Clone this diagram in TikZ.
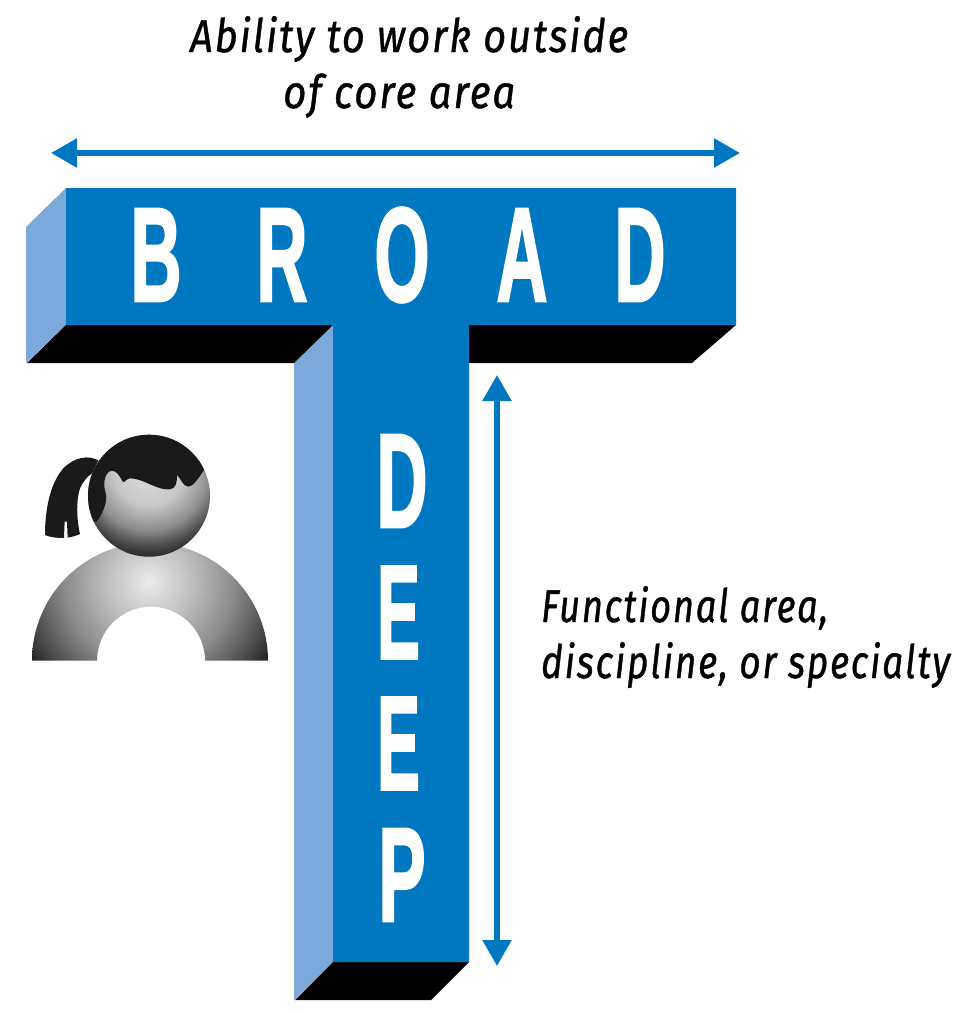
\documentclass[tikz,border=0pt]{standalone}
\usepackage{fontspec}
\setmainfont{Liberation Sans}
\newfontfamily\ltrfont[FakeBold=2]{Liberation Sans Bold}
\newfontfamily\handfont[LetterSpace=5,FakeBold=1]{Fira Sans Italic}
\usetikzlibrary{arrows.meta}
\definecolor{tblue}{HTML}{0077C1}
\definecolor{tlight}{HTML}{7BA9DC}
\definecolor{hairc}{HTML}{1A1A1A}
\pgfdeclareradialshading{bodyshade}{\pgfpoint{0bp}{0bp}}{color(0bp)=(white!92!black);color(7.4bp)=(white!75!black);color(14.8bp)=(white!55!black);color(21.2bp)=(white!30!black);color(25bp)=(black!87!white);color(100bp)=(black!87!white)}
\pgfdeclareradialshading{headshade}{\pgfpoint{0bp}{0bp}}{color(0bp)=(white!88!black);color(9.9bp)=(white!78!black);color(16.7bp)=(white!55!black);color(20.9bp)=(white!30!black);color(25bp)=(black!87!white);color(100bp)=(black!87!white)}
\tikzset{
  x=1pt,y=-1pt,
  letterbig/.style={text=white,inner sep=0pt,font=\ltrfont\fontsize{134}{134}\selectfont},
  handtext/.style={inner sep=0pt,anchor=base west,font=\handfont\fontsize{46}{46}\selectfont},
  dimarrow/.style={draw=tblue,line width=5.5pt,{Triangle[length=26pt,width=28pt]}-{Triangle[length=26pt,width=28pt]}},
}
\begin{document}
\begin{tikzpicture}
\useasboundingbox (0,0) rectangle (968,1013);
% T shape
\fill[tlight] (26,227) -- (66,188) -- (66,325) -- (26,363) -- cycle;
\fill[tlight] (294,363) -- (333,325) -- (333,962) -- (294,1000) -- cycle;
\fill[black] (66,325) -- (333,325) -- (294,363) -- (27,363) -- cycle;
\fill[black] (469,325) -- (736,325) -- (692,363) -- (469,363) -- cycle;
\fill[black] (333,962) -- (469,962) -- (431,1000) -- (295,1000) -- cycle;
\fill[tblue] (66,188) -- (736,188) -- (736,325) -- (469,325) -- (469,962) -- (333,962) -- (333,325) -- (66,325) -- cycle;
% letters
\node[letterbig] (b1) at (156,255) {\scalebox{.53}[1]{B}};
\node[letterbig] (b2) at (282,255) {\scalebox{.53}[1]{R}};
\node[letterbig] (b3) at (402,255) {\scalebox{.53}[1]{O}};
\node[letterbig] (b4) at (522,255) {\scalebox{.53}[1]{A}};
\node[letterbig] (b5) at (640,255) {\scalebox{.53}[1]{D}};
\node[letterbig] (d1) at (402,481) {\scalebox{.53}[1]{D}};
\node[letterbig] (d2) at (398.5,612.5) {\scalebox{.48}[1]{E}};
\node[letterbig] (d3) at (398.5,743.5) {\scalebox{.48}[1]{E}};
\node[letterbig] (d4) at (402,875) {\scalebox{.53}[1]{P}};
% arrows
\coordinate (hl) at (51,153);
\coordinate (hr) at (740,153);
\coordinate (vt) at (497,375);
\coordinate (vb) at (497,966);
\draw[dimarrow] (hl) -- (hr);
\draw[dimarrow] (vt) -- (vb);
% texts
\node[handtext] (t1) at (190,52) {\resizebox{438pt}{\height}{Ability to work outside}};
\node[handtext] (t2) at (283,108) {\resizebox{232pt}{\height}{of core area}};
\node[handtext] (t3) at (541,622) {\resizebox{287pt}{\height}{Functional area,}};
\node[handtext] (t4) at (541,678) {\resizebox{409pt}{\height}{discipline, or specialty}};
% person
\begin{scope}
  \clip (32,660.7) arc[start angle=180,end angle=360,radius=118] -- (205,660.7) arc[start angle=360,end angle=180,radius=54] -- cycle;
  \shade[shading=bodyshade] (7,440) rectangle (291,724);
\end{scope}
\begin{scope}
  \clip (149,495.7) circle[radius=61];
  \shade[shading=headshade] (59,380) rectangle (239,560);
\end{scope}
\begin{scope}[shift={(0,420)},x=0.3333pt,y=-0.3333pt]
  \begin{scope}
    \clip (149*3,75.7*3) circle[radius=183];
    \fill[hairc] (640,120) -- (612,150) .. controls (595,175) and (580,200) .. (565,200)
      .. controls (548,198) and (545,180) .. (532,165)
      .. controls (530,185) and (530,205) .. (510,208)
      .. controls (470,212) and (430,175) .. (390,175)
      .. controls (375,178) and (375,190) .. (368,185)
      .. controls (355,160) and (345,150) .. (332,153)
      .. controls (315,158) and (308,190) .. (316,215)
      .. controls (325,240) and (310,280) .. (290,305)
      -- (240,320) -- (240,20) -- (640,20) -- cycle;
  \end{scope}
  \fill[hairc] (295,121) .. controls (265,105) and (225,110) .. (190,145)
    .. controls (150,190) and (135,270) .. (135,345)
    .. controls (150,352) and (170,354) .. (192,354)
    -- (194,305) -- (201,305) -- (203,353)
    .. controls (215,351) and (230,347) .. (240,342)
    .. controls (230,300) and (228,240) .. (240,205)
    .. controls (248,185) and (262,170) .. (276,160)
    -- cycle;
\end{scope}
\end{tikzpicture}
\end{document}
